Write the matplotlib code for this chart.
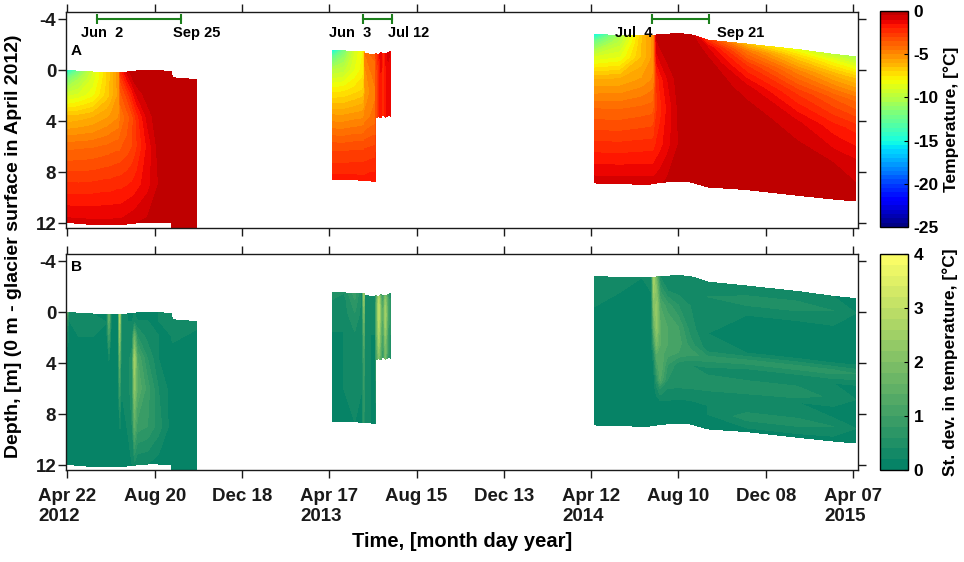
import numpy as np
import matplotlib
matplotlib.use("Agg")
from matplotlib import pyplot as plt
from matplotlib.colors import ListedColormap

plt.rcParams['font.family'] = ['Liberation Sans', 'DejaVu Sans']
plt.rcParams['font.weight'] = 'bold'
plt.rcParams['axes.unicode_minus'] = False

# time axis: days counted from Apr 22 2012
tick_days = [0, 120, 240, 360, 480, 600, 720, 840, 960, 1080]
tick_labels = ['Apr 22\n2012', 'Aug 20', 'Dec 18', 'Apr 17\n2013', 'Aug 15',
               'Dec 13', 'Apr 12\n2014', 'Aug 10', 'Dec 08', 'Apr 07\n2015']
depth_ticks = [-4, 0, 4, 8, 12]

# melt season markers
bar_start = [41, 407, 803]
bar_end = [156, 446, 882]
start_text = ['Jun  2', 'Jun  3', 'Jul  4']
end_text = ['Sep 25', 'Jul 12', 'Sep 21']
start_text_day = [47, 388, 778]
end_text_day = [177, 469, 925]

# relative position between top and bottom of the string (0 = top, 1 = bottom)
f_rows = [0, 0.05, 0.15, 0.3, 0.5, 0.75, 1.0]
f_rows_sd3 = [0, 0.1, 0.2, 0.35, 0.46, 0.52, 0.6, 0.7, 0.76, 0.84, 0.9, 1.0]

# ---- 2012 ----
t1 = [0, 2, 15, 35, 54, 57, 60, 70, 71.5, 72.5, 74, 82, 89, 92, 96, 110, 125, 143, 144, 178]
top1 = [0.0, 0.0, 0.1, 0.15, 0.2, 0.2, 0.2, 0.2, 0.2, 0.2, 0.2, 0.15, 0.1, 0.1, 0.05, 0.05, 0.05, 0.1, 0.6, 0.75]
bot1 = [11.95, 11.95, 12.0, 12.1, 12.1, 12.1, 12.1, 12.1, 12.1, 12.1, 12.1, 12.05, 12.0, 12.0, 11.95, 11.9, 11.9, 11.95, 12.6, 12.6]
temp1 = [[-15, -12, -9.5, -6.5, -4.2, -2.4, -0.8],
         [-14.5, -11.8, -9.4, -6.5, -4.2, -2.4, -0.8],
         [-12, -10.5, -9, -6.3, -4.1, -2.4, -0.8],
         [-9, -8.8, -8.2, -6, -4, -2.3, -0.8],
         [-7, -7, -6.8, -5.5, -3.8, -2.2, -0.8],
         [-6.7, -6.7, -6.6, -5.4, -3.8, -2.2, -0.8],
         [-6.3, -6.3, -6.3, -5.3, -3.7, -2.2, -0.8],
         [-5.2, -5.2, -5.4, -5, -3.6, -2.1, -0.8],
         [-5, -5, -5.2, -4.9, -3.6, -2.1, -0.8],
         [-2.5, -3, -3.8, -4.5, -3.6, -2.1, -0.8],
         [-2.2, -2.8, -3.6, -4.4, -3.5, -2.1, -0.8],
         [-0.8, -1.5, -2.8, -3.8, -3.3, -2.0, -0.7],
         [-0.2, -0.6, -1.8, -3.2, -3.0, -1.9, -0.6],
         [0, -0.3, -1.3, -2.8, -2.8, -1.8, -0.6],
         [0, -0.1, -0.8, -2.2, -2.5, -1.7, -0.5],
         [0, 0, -0.2, -0.8, -1.4, -1.2, -0.4],
         [0, 0, 0, -0.1, -0.3, -0.5, -0.2],
         [0, 0, 0, 0, 0, 0, 0],
         [0, 0, 0, 0, 0, 0, 0],
         [0, 0, 0, 0, 0, 0, 0]]
sd1 = [[1.5, 0.8, 0.3, 0.1, 0.1, 0.1, 0.1],
       [0.2, 0.2, 0.2, 0.1, 0.1, 0.1, 0.1],
       [0.3, 0.3, 0.2, 0.1, 0.1, 0.1, 0.1],
       [0.2, 0.3, 0.2, 0.1, 0.1, 0.1, 0.1],
       [0.2, 0.2, 0.1, 0.1, 0.1, 0.1, 0.1],
       [1.6, 1.4, 0.9, 0.2, 0.1, 0.1, 0.1],
       [0.2, 0.2, 0.1, 0.1, 0.1, 0.1, 0.1],
       [0.2, 0.2, 0.2, 0.1, 0.1, 0.1, 0.1],
       [2.8, 2.6, 2.2, 1.6, 0.9, 0.2, 0.1],
       [2.0, 1.8, 1.5, 1.0, 0.6, 0.2, 0.1],
       [0.3, 0.3, 0.3, 0.2, 0.2, 0.1, 0.1],
       [0.2, 0.2, 0.3, 0.3, 0.3, 0.2, 0.1],
       [0.2, 0.2, 0.3, 0.5, 0.5, 0.4, 0.2],
       [0.2, 0.3, 1.6, 2.6, 2.2, 1.4, 0.3],
       [0.2, 0.2, 0.6, 1.2, 1.4, 0.9, 0.2],
       [0.2, 0.2, 0.3, 0.6, 0.9, 0.8, 0.2],
       [0.2, 0.2, 0.2, 0.2, 0.4, 0.5, 0.1],
       [0.3, 0.3, 0.2, 0.1, 0.1, 0.1, 0.1],
       [0.3, 0.3, 0.2, 0.1, 0.1, 0.1, 0.1],
       [0.3, 0.2, 0.1, 0.1, 0.1, 0.1, 0.1]]

# ---- 2013 ----
t2 = [365, 380, 395, 405, 407.5, 409, 416, 423, 424, 428, 431, 434, 437, 441, 444]
top2 = [-1.52, -1.5, -1.48, -1.46, -1.45, -1.3, -1.25, -1.2, -1.3, -1.2, -1.35, -1.3, -1.25, -1.4, -1.45]
bot2 = [8.55, 8.57, 8.6, 8.62, 8.62, 8.65, 8.68, 8.72, 3.7, 3.65, 3.7, 3.4, 3.7, 3.55, 3.6]
temp2 = [[-15, -12.5, -10, -7.8, -5.5, -3.2, -1.8],
         [-12, -11, -9.7, -7.7, -5.5, -3.2, -1.8],
         [-9, -8.8, -8.5, -7.3, -5.3, -3.1, -1.8],
         [-8, -8, -7.8, -7, -5.2, -3.1, -1.8],
         [-7.8, -7.8, -7.6, -6.9, -5.1, -3.1, -1.8],
         [-4.5, -4.8, -5.2, -5.6, -4.8, -3, -1.8],
         [-4, -4.2, -4.6, -5.0, -4.5, -2.9, -1.7],
         [-3.8, -4, -4.3, -4.6, -4.3, -2.8, -1.7],
         [-3, -3, -3.2, -3.5, -3.5, -3.5, -3.5],
         [-2, -2, -2.2, -2.5, -2.5, -2.5, -2.5],
         [-1, -1, -1.2, -1.5, -1.5, -1.6, -1.6],
         [-2.5, -2.5, -2.5, -2.8, -2.8, -2.8, -2.8],
         [-1.5, -1.5, -1.6, -1.8, -1.8, -1.8, -1.8],
         [-0.8, -0.8, -1, -1.2, -1.2, -1.2, -1.2],
         [-1.2, -1.2, -1.3, -1.5, -1.5, -1.5, -1.5]]
sd2 = [[0.5, 0.4, 0.3, 0.2, 0.2, 0.2, 0.2],
       [0.4, 0.3, 0.3, 0.2, 0.2, 0.2, 0.2],
       [0.9, 0.8, 0.6, 0.4, 0.3, 0.3, 0.2],
       [0.3, 0.3, 0.3, 0.2, 0.2, 0.2, 0.2],
       [2.4, 2.2, 1.8, 1.4, 1.0, 0.8, 0.6],
       [0.4, 0.4, 0.3, 0.3, 0.3, 0.3, 0.3],
       [0.3, 0.3, 0.3, 0.2, 0.2, 0.2, 0.2],
       [0.3, 0.3, 0.3, 0.2, 0.2, 0.2, 0.2],
       [0.8, 0.8, 1.0, 1.0, 1.0, 0.9, 0.8],
       [2.6, 2.8, 3.0, 3.0, 2.8, 2.5, 2.0],
       [1.2, 1.4, 1.6, 1.8, 1.6, 1.4, 1.2],
       [0.6, 0.8, 1.0, 1.2, 1.0, 0.8, 0.6],
       [2.0, 2.2, 2.4, 2.6, 2.4, 2.0, 1.8],
       [0.8, 0.9, 1.0, 1.0, 0.9, 0.8, 0.7],
       [0.5, 0.5, 0.6, 0.6, 0.6, 0.5, 0.5]]

# ---- 2014 ----
t3 = [725, 760, 790, 803, 806, 810, 815, 825, 840, 856, 880, 934, 1003, 1053, 1084]
top3 = [-2.77, -2.73, -2.7, -2.7, -2.72, -2.75, -2.78, -2.82, -2.85, -2.8, -2.35, -2.04, -1.62, -1.23, -1.05]
bot3 = [8.84, 8.9, 8.94, 8.92, 8.9, 8.85, 8.8, 8.75, 8.7, 8.75, 9.15, 9.36, 9.8, 10.1, 10.25]
temp3 = [[-15, -12, -9, -6, -4, -2.3, -0.7],
         [-10.5, -9.8, -8.5, -5.9, -4, -2.3, -0.7],
         [-6.5, -6.5, -6.4, -5.4, -3.8, -2.2, -0.7],
         [-5.5, -5.5, -5.5, -5, -3.7, -2.2, -0.7],
         [-5.2, -5.2, -5.2, -4.9, -3.6, -2.2, -0.7],
         [-0.3, -0.6, -1.2, -2.5, -2.6, -1.9, -0.7],
         [-0.1, -0.3, -0.8, -1.8, -2.2, -1.7, -0.6],
         [0, 0, -0.3, -1.0, -1.4, -1.2, -0.4],
         [0, 0, 0, -0.2, -0.4, -0.5, -0.2],
         [0, 0, 0, 0, 0, 0, 0],
         [-2.5, -1, -0.2, 0, 0, 0, 0],
         [-6.5, -4.5, -2.5, -0.8, -0.1, 0, 0],
         [-8.5, -7, -4.8, -2.6, -0.9, -0.1, 0],
         [-9.8, -8.2, -6, -3.6, -1.8, -0.5, 0],
         [-10.5, -9, -6.6, -4.2, -2.2, -0.8, -0.2]]
sd3 = [[0.4, 0.3, 0.2, 0.1, 0.1, 0.1, 0.1, 0.1, 0.1, 0.1, 0.1, 0.1],
       [0.3, 0.2, 0.1, 0.1, 0.1, 0.1, 0.1, 0.1, 0.1, 0.1, 0.1, 0.1],
       [0.2, 0.1, 0.1, 0.1, 0.1, 0.1, 0.1, 0.1, 0.1, 0.1, 0.1, 0.1],
       [0.3, 0.2, 0.1, 0.1, 0.1, 0.1, 0.1, 0.1, 0.1, 0.1, 0.1, 0.1],
       [2.6, 2.4, 2.0, 1.4, 0.8, 0.4, 0.2, 0.1, 0.1, 0.1, 0.1, 0.1],
       [1.6, 2.0, 2.3, 2.2, 1.8, 1.4, 1.0, 0.6, 0.3, 0.1, 0.1, 0.1],
       [0.4, 0.8, 1.2, 1.4, 1.4, 1.3, 1.4, 1.2, 0.6, 0.2, 0.1, 0.1],
       [0.2, 0.4, 0.9, 1.2, 1.2, 1.1, 0.8, 0.6, 0.4, 0.2, 0.1, 0.1],
       [0.2, 0.3, 0.6, 1.0, 1.1, 1.0, 0.5, 0.6, 0.4, 0.2, 0.1, 0.1],
       [0.2, 0.3, 0.4, 0.5, 0.7, 0.9, 0.4, 0.6, 0.4, 0.2, 0.1, 0.1],
       [0.3, 0.4, 0.3, 0.2, 0.3, 0.7, 0.3, 0.6, 0.3, 0.2, 0.2, 0.1],
       [0.2, 0.5, 0.2, 0.1, 0.2, 0.7, 0.2, 0.6, 0.3, 0.3, 0.5, 0.1],
       [0.2, 0.5, 0.2, 0.1, 0.2, 0.7, 0.2, 0.6, 0.2, 0.3, 0.5, 0.1],
       [0.2, 0.4, 0.2, 0.1, 0.2, 0.7, 0.2, 0.3, 0.2, 0.2, 0.4, 0.1],
       [0.2, 0.2, 0.1, 0.1, 0.2, 0.6, 0.2, 0.2, 0.1, 0.1, 0.2, 0.1]]

segments = [(t1, top1, bot1, temp1, sd1, f_rows),
            (t2, top2, bot2, temp2, sd2, f_rows),
            (t3, top3, bot3, temp3, sd3, f_rows_sd3)]


def grid(t, top, bot, f):
    t = np.asarray(t, float)
    top = np.asarray(top, float)
    bot = np.asarray(bot, float)
    f = np.asarray(f, float)[:, None]
    X = np.broadcast_to(t, (f.shape[0], t.size))
    Y = top + f * (bot - top)
    return X, Y


temp_cmap = ListedColormap(plt.get_cmap('jet')(np.linspace(0, 0.95, 256)))
temp_levels = np.linspace(-25, 0, 51)
sd_cmap = plt.get_cmap('summer')
sd_levels = np.linspace(0, 4, 21)

fig = plt.figure(figsize=(9.64, 5.62), dpi=100)
ax1 = fig.add_axes([0.0685, 0.5943, 0.8216, 0.3843])
ax2 = fig.add_axes([0.0685, 0.1637, 0.8216, 0.3843])
cax1 = fig.add_axes([0.9129, 0.5961, 0.029, 0.3843])
cax2 = fig.add_axes([0.9129, 0.1637, 0.029, 0.3843])

for t, top, bot, temp, sd, fsd in segments:
    X, Y = grid(t, top, bot, f_rows)
    cs1 = ax1.contourf(X, Y, np.array(temp).T, levels=temp_levels, cmap=temp_cmap)
    X, Y = grid(t, top, bot, fsd)
    cs2 = ax2.contourf(X, Y, np.array(sd).T, levels=sd_levels, cmap=sd_cmap)

green = '#1c7f1c'
for s, e, st, et, sx, ex in zip(bar_start, bar_end, start_text, end_text, start_text_day, end_text_day):
    ax1.plot([s, e], [-4, -4], color=green, lw=1.5, marker='|', ms=7, mew=1.5)
    ax1.text(sx, -2.9, st, ha='center', va='center', fontsize=10.5)
    ax1.text(ex, -2.9, et, ha='center', va='center', fontsize=10.5)

ax1.text(0.006, 0.82, 'A', transform=ax1.transAxes, ha='left', va='center', fontsize=11)
ax2.text(0.006, 0.94, 'B', transform=ax2.transAxes, ha='left', va='center', fontsize=11)

for ax in (ax1, ax2):
    ax.set_xlim(-2, 1087)
    ax.set_ylim(12.37, -4.55)
    ax.set_xticks(tick_days)
    ax.set_yticks(depth_ticks)
    ax.tick_params(axis='both', direction='out', length=6, width=1, top=True, right=True,
                   labelsize=13.5, colors='#1a1a1a')
    ax.tick_params(axis='y', pad=1)
    ax.tick_params(axis='x', pad=7)
    for sp in ax.spines.values():
        sp.set_linewidth(1.0)
        sp.set_color('#1a1a1a')

ax1.tick_params(labelbottom=False)
ax2.set_xticklabels(tick_labels)
for lbl in ax2.get_xticklabels():
    lbl.set_multialignment('left')

cb1 = fig.colorbar(cs1, cax=cax1, ticks=[0, -5, -10, -15, -20, -25])
cb2 = fig.colorbar(cs2, cax=cax2, ticks=[0, 1, 2, 3, 4])
for cb in (cb1, cb2):
    cb.outline.set_linewidth(1.0)
    cb.ax.tick_params(labelsize=12.5, length=3, direction='in', pad=4)

fig.text(0.9865, 0.787, 'Temperature, [°C]', rotation=90, ha='center', va='center', fontsize=12.5)
fig.text(0.986, 0.355, 'St. dev. in temperature, [°C]', rotation=90, ha='center', va='center', fontsize=12.5)
fig.text(0.0145, 0.561, 'Depth, [m] (0 m - glacier surface in April 2012)', rotation=90,
         ha='center', va='center', fontsize=14)
fig.text(0.479, 0.037, 'Time, [month day year]', ha='center', va='center', fontsize=14.5)

fig.savefig('out.png', dpi=100)
